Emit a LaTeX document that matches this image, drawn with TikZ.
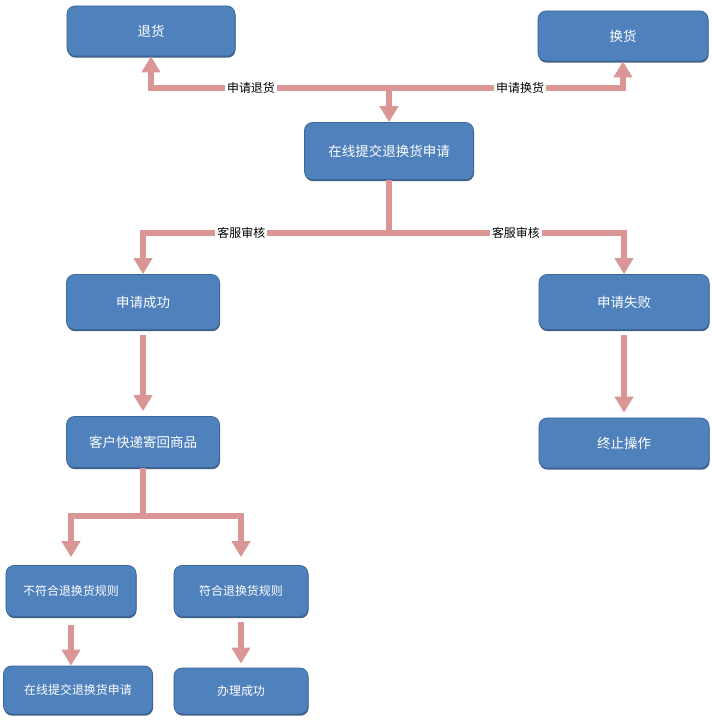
\documentclass[tikz,border=0pt]{standalone}
\usepackage{fontspec}
\newfontfamily\cjk{Noto Sans CJK SC}
\usetikzlibrary{arrows.meta,positioning,shadows}
\definecolor{BoxBlue}{HTML}{4F81BD}
\definecolor{BoxEdge}{HTML}{3C679A}
\definecolor{BoxShade}{HTML}{2E4E76}
\definecolor{LinkPink}{HTML}{D99694}

\begin{document}
\begin{tikzpicture}[x=0.025cm, y=-0.025cm, every node/.style={font=\cjk\fontsize{9.6}{11}\selectfont}, card/.style={rounded corners=2mm, draw=BoxEdge, fill=BoxBlue, text=white, inner sep=0pt, line width=0.5pt, drop shadow={shadow xshift=0.4pt, shadow yshift=-1.2pt, fill=BoxShade, opacity=0.9}}, small/.style={font=\cjk\fontsize{8.5}{10}\selectfont}, tag/.style={fill=white, inner sep=1.5pt, text=black, font=\cjk\fontsize{8.5}{10}\selectfont}, link/.style={draw=LinkPink, line width=4.2pt}, arrow/.style={link, -{Triangle[width=0.45cm, length=0.4cm]}}]
\useasboundingbox (0,0) rectangle (711,722);
\node[card, minimum width=4.2cm, minimum height=1.25cm] (tui) at (151,31) {退货};
\node[card, minimum width=4.25cm, minimum height=1.25cm] (huan) at (623,36) {换货};
\node[card, minimum width=4.225cm, minimum height=1.425cm] (tijiao) at (389,151) {在线提交退换货申请};
\node[card, minimum width=3.825cm, minimum height=1.375cm] (ok) at (143,302) {申请成功};
\node[card, minimum width=4.25cm, minimum height=1.375cm] (fail) at (624,302) {申请失败};
\node[card, minimum width=3.825cm, minimum height=1.275cm] (kuaidi) at (143,442) {客户快递寄回商品};
\node[card, minimum width=4.25cm, minimum height=1.25cm] (stop) at (624,443) {终止操作};
\node[card, small, minimum width=3.25cm, minimum height=1.275cm] (bu) at (71,591) {不符合退换货规则};
\node[card, small, minimum width=3.35cm, minimum height=1.275cm] (fu) at (241,591) {符合退换货规则};
\node[card, small, minimum width=3.725cm, minimum height=1.2cm] (again) at (78,690) {在线提交退换货申请};
\node[card, small, minimum width=3.35cm, minimum height=1.15cm] (banli) at (241,691) {办理成功};
\coordinate (apply) at (389,88);
\coordinate (check) at (389,233);
\coordinate (back) at (143,516);
% top row
\draw[arrow] (apply) -| node[tag, pos=0.29] {申请退货} (tui);
\draw[arrow] (apply) -| node[tag, pos=0.28] {申请换货} (huan);
\draw[arrow] (apply) -- (tijiao);
% review
\draw[link] (tijiao) -- (check);
\draw[arrow] (check) -| node[tag, pos=0.3] {客服审核} (ok);
\draw[arrow] (check) -| node[tag, pos=0.27] {客服审核} (fail);
\draw[arrow, shorten <=0.125cm, shorten >=0.125cm] (ok) -- (kuaidi);
\draw[arrow, shorten <=0.125cm, shorten >=0.125cm] (fail) -- (stop);
% rules
\draw[link] (kuaidi) -- (back);
\draw[arrow, shorten >=0.2cm] (back) -| (bu);
\draw[arrow, shorten >=0.2cm] (back) -| (fu);
\draw[arrow, shorten <=0.2cm] (bu) -- (bu |- again.north);
\draw[arrow, shorten <=0.125cm, shorten >=0.1cm] (fu) -- (banli);
\end{tikzpicture}
\end{document}
